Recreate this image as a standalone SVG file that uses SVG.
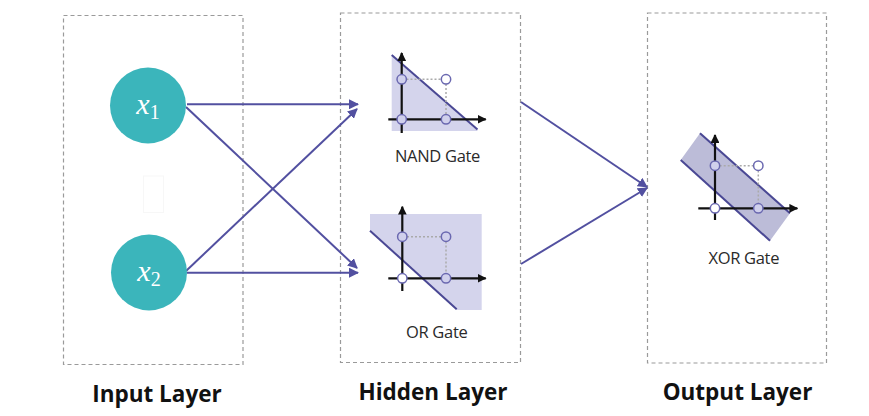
<svg xmlns="http://www.w3.org/2000/svg" width="869" height="416" viewBox="0 0 869 416">
<style>
.layer{fill:none;stroke:#9a9a9a;stroke-width:1.2;stroke-dasharray:4 3}
.title{font-family:"Open Sans","Noto Sans",sans-serif;font-weight:bold;font-size:22.5px;fill:#111;text-anchor:middle}
.gl{font-family:"Open Sans","Noto Sans",sans-serif;font-size:16.5px;fill:#2a2a2a;text-anchor:middle;letter-spacing:-0.3px}
.node{fill:#3bb5bb}
.var{font-family:"Liberation Serif",serif;fill:#fff;text-anchor:middle}
.conn{stroke:#5250a0;stroke-width:2;fill:none;marker-end:url(#ah)}
.axis{stroke:#111;stroke-width:2.2;fill:none;marker-end:url(#ax)}
.dot{stroke:#aaa;stroke-width:1.5;stroke-dasharray:2 2;fill:none}
.pf{fill:#d0d0ec;stroke:#6a68b0;stroke-width:1.5}
.pw{fill:#fff;stroke:#6a68b0;stroke-width:1.5}
.sep{stroke:#4a4894;stroke-width:2;fill:none}
</style>
<defs>
<marker id="ah" viewBox="0 0 10 10" refX="9" refY="5" markerWidth="5" markerHeight="5" orient="auto" markerUnits="strokeWidth">
<path d="M0,0 L10,5 L0,10 z" fill="#5250a0"/>
</marker>
<marker id="ax" viewBox="0 0 10 10" refX="9" refY="5" markerWidth="4" markerHeight="4" orient="auto" markerUnits="strokeWidth">
<path d="M0,0 L10,5 L0,10 z" fill="#111"/>
</marker>
</defs>
<rect width="869" height="416" fill="#fff"/>

<g id="input-layer">
<rect class="layer" x="63.5" y="15.5" width="179.5" height="349"/>
<rect x="143.5" y="176" width="20" height="36.5" fill="none" stroke="#f7f7f7" stroke-width="1"/>
<text class="title" x="157" y="402">Input Layer</text>
</g>
<g id="hidden-layer">
<rect class="layer" x="340.5" y="13" width="180" height="349.5"/>
<text class="title" x="433" y="400">Hidden Layer</text>
</g>
<g id="output-layer">
<rect class="layer" x="647.5" y="13" width="179" height="350"/>
<text class="title" x="737.5" y="400">Output Layer</text>
</g>

<g id="connectors">
<line class="conn" x1="187" y1="104.3" x2="358" y2="104.3"/>
<line class="conn" x1="186" y1="107" x2="357" y2="268"/>
<line class="conn" x1="186" y1="271" x2="357" y2="109"/>
<line class="conn" x1="187" y1="272.7" x2="358" y2="272.7"/>
<line class="conn" x1="521" y1="102" x2="647" y2="187"/>
<line class="conn" x1="521" y1="264" x2="647" y2="188"/>
</g>

<g id="x1">
<circle class="node" cx="148" cy="105.5" r="38"/>
<text class="var" x="148" y="114"><tspan font-style="italic" font-size="30">x</tspan><tspan font-size="20" dy="5">1</tspan></text>
</g>
<g id="x2">
<circle class="node" cx="149" cy="272.5" r="38"/>
<text class="var" x="149" y="281"><tspan font-style="italic" font-size="30">x</tspan><tspan font-size="20" dy="5">2</tspan></text>
</g>

<g id="nand-gate">
<polygon points="391.7,55 391.7,131 478,131" fill="#d4d4ec"/>
<line class="sep" x1="391.7" y1="55" x2="477.5" y2="129.5"/>
<line class="axis" x1="401.7" y1="133" x2="401.7" y2="53"/>
<line class="axis" x1="388.3" y1="119.3" x2="485.7" y2="119.3"/>
<line class="dot" x1="406.5" y1="79.3" x2="441.3" y2="79.3"/>
<line class="dot" x1="446" y1="84" x2="446" y2="114.5"/>
<circle class="pf" cx="401.7" cy="79.3" r="4.7"/>
<circle class="pw" cx="446" cy="79.3" r="4.7"/>
<circle class="pf" cx="401.7" cy="119.3" r="4.7"/>
<circle class="pf" cx="446" cy="119.3" r="4.7"/>
<text class="gl" x="437.5" y="162">NAND Gate</text>
</g>

<g id="or-gate">
<polygon points="370,214 481.7,214 481.7,310 456.7,310 370,230.7" fill="#d4d4ec"/>
<line class="sep" x1="370" y1="230.7" x2="456.7" y2="309.3"/>
<line class="axis" x1="402.3" y1="291" x2="402.3" y2="206.7"/>
<line class="axis" x1="388.3" y1="278.3" x2="485.7" y2="278.3"/>
<line class="dot" x1="407" y1="236.7" x2="441.3" y2="236.7"/>
<line class="dot" x1="446" y1="241.5" x2="446" y2="273.5"/>
<circle class="pf" cx="402.3" cy="236.7" r="4.7"/>
<circle class="pf" cx="446" cy="236.7" r="4.7"/>
<circle class="pw" cx="402.3" cy="278.3" r="4.7"/>
<circle class="pf" cx="446" cy="278.3" r="4.7"/>
<text class="gl" x="436.7" y="338">OR Gate</text>
</g>

<g id="xor-gate">
<polygon points="700,133.3 790,213.3 770,240.7 680.7,160" fill="#bcbcd8"/>
<line class="sep" x1="700" y1="133.3" x2="790" y2="213.3"/>
<line class="sep" x1="680.7" y1="160" x2="770" y2="240.7"/>
<line class="axis" x1="715" y1="220" x2="715" y2="135"/>
<line class="axis" x1="698.3" y1="208.3" x2="797.3" y2="208.3"/>
<line class="dot" x1="719.7" y1="165.7" x2="753.6" y2="165.7"/>
<line class="dot" x1="758.3" y1="170.4" x2="758.3" y2="203.6"/>
<circle class="pf" cx="715" cy="165.7" r="4.7"/>
<circle class="pw" cx="758.3" cy="165.7" r="4.7"/>
<circle class="pw" cx="715" cy="208.3" r="4.7"/>
<circle class="pf" cx="758.3" cy="208.3" r="4.7"/>
<text class="gl" x="743.8" y="263.5">XOR Gate</text>
</g>
</svg>
